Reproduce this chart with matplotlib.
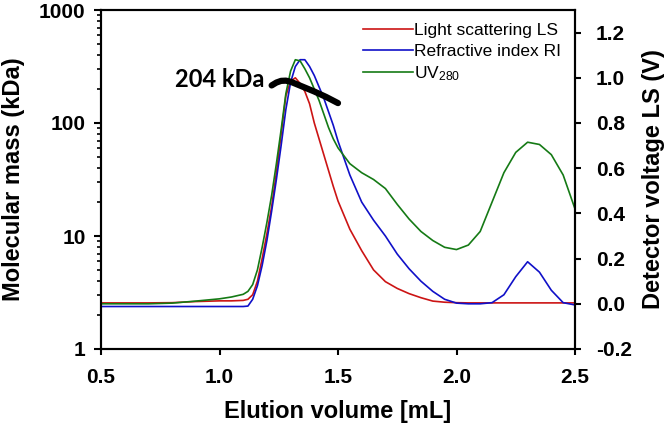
import numpy as np
import matplotlib
matplotlib.use('Agg')
import matplotlib.pyplot as plt
from matplotlib.ticker import LogLocator, FixedLocator, NullFormatter

plt.rcParams['font.family'] = ['Liberation Sans', 'DejaVu Sans']
plt.rcParams['mathtext.default'] = 'regular'

#%% data
volumen = [0.5, 0.6, 0.7, 0.8, 0.9, 1.0, 1.05, 1.1, 1.12, 1.14, 1.16, 1.18, 1.2,
           1.22, 1.24, 1.26, 1.28, 1.30, 1.32, 1.34, 1.36, 1.38, 1.40, 1.42,
           1.44, 1.46, 1.48, 1.50, 1.55, 1.60, 1.65, 1.70, 1.75, 1.80, 1.85,
           1.90, 1.95, 2.0, 2.05, 2.1, 2.15, 2.2, 2.25, 2.3, 2.35, 2.4, 2.45, 2.5]

ls = [0.004, 0.004, 0.004, 0.005, 0.010, 0.013, 0.013, 0.015, 0.020, 0.040,
      0.10, 0.20, 0.31, 0.43, 0.58, 0.75, 0.92, 0.985, 1.0, 0.975, 0.94, 0.885,
      0.80, 0.73, 0.66, 0.59, 0.52, 0.455, 0.33, 0.235, 0.15, 0.098, 0.068,
      0.045, 0.027, 0.012, 0.007, 0.005, 0.004, 0.004, 0.004, 0.004, 0.004,
      0.004, 0.004, 0.004, 0.004, 0.004]

ri = [-0.012, -0.012, -0.012, -0.012, -0.012, -0.012, -0.012, -0.012, -0.010,
      0.02, 0.08, 0.17, 0.28, 0.41, 0.55, 0.70, 0.86, 0.98, 1.05, 1.08, 1.08,
      1.05, 1.01, 0.96, 0.91, 0.85, 0.79, 0.72, 0.57, 0.45, 0.37, 0.30, 0.22,
      0.155, 0.10, 0.055, 0.02, 0.003, 0.0, 0.0, 0.005, 0.04, 0.12, 0.186,
      0.14, 0.06, 0.005, -0.005]

uv = [0.0, 0.0, 0.0, 0.003, 0.012, 0.022, 0.030, 0.042, 0.055, 0.085, 0.15,
      0.25, 0.36, 0.48, 0.62, 0.77, 0.93, 1.03, 1.08, 1.075, 1.04, 1.0, 0.95,
      0.90, 0.84, 0.78, 0.73, 0.69, 0.62, 0.58, 0.55, 0.51, 0.44, 0.375, 0.32,
      0.28, 0.25, 0.24, 0.26, 0.32, 0.45, 0.58, 0.67, 0.715, 0.705, 0.66,
      0.57, 0.42]

# molar mass across the main peak (kDa)
vol_mm = [1.22, 1.24, 1.26, 1.28, 1.30, 1.35, 1.40, 1.45, 1.50]
masa = [215, 228, 236, 237, 232, 210, 190, 170, 150]

#%%
fig = plt.figure(figsize=(6.68, 4.24), dpi=100)
ax = fig.add_axes([101/668, 75/424, 474/668, 339/424])
ax2 = ax.twinx()

ax2.plot(volumen, ls, color='#cc1414', lw=1.2, label='Light scattering LS')
ax2.plot(volumen, ri, color='#1010c8', lw=1.2, label='Refractive index RI')
ax2.plot(volumen, uv, color='#157a15', lw=1.2, label='UV$_{280}$')

ax.plot(vol_mm, masa, color='black', lw=4.5, solid_capstyle='round')
ax.text(1.0, 245, '204 kDa', fontsize=17, fontweight='bold', family='Lato',
        ha='center', va='center')

ax.set_zorder(ax2.get_zorder() + 1)
ax.patch.set_visible(False)

ax.set_xlim(0.5, 2.5)
ax.set_yscale('log')
ax.set_ylim(1, 1000)
ax2.set_ylim(-0.2, 1.3)

ax.set_xticks([0.5, 1.0, 1.5, 2.0, 2.5])
ax.set_xticklabels(['0.5', '1.0', '1.5', '2.0', '2.5'])
ax.yaxis.set_major_locator(FixedLocator([1, 10, 100, 1000]))
ax.set_yticklabels(['1', '10', '100', '1000'])
ax.yaxis.set_minor_locator(LogLocator(base=10, subs=np.arange(2, 10)))
ax.yaxis.set_minor_formatter(NullFormatter())
ax2.set_yticks([-0.2, 0.0, 0.2, 0.4, 0.6, 0.8, 1.0, 1.2])
ax2.set_yticklabels(['-0.2', '0.0', '0.2', '0.4', '0.6', '0.8', '1.0', '1.2'])

for a in (ax, ax2):
    for s in a.spines.values():
        s.set_linewidth(1.5)
    for lab in a.get_xticklabels() + a.get_yticklabels():
        lab.set_fontweight('bold')
        lab.set_fontsize(15)

ax.tick_params(axis='y', which='major', direction='out', length=5, width=1.5, pad=6)
ax.tick_params(axis='y', which='minor', direction='out', length=3, width=1.2)
ax.tick_params(axis='x', direction='out', length=4, width=1.5, pad=10)
ax2.tick_params(axis='y', direction='out', length=4, width=1.5, pad=11)

ax.set_xlabel('Elution volume [mL]', fontsize=17, fontweight='bold')
ax.set_ylabel('Molecular mass (kDa)', fontsize=17, fontweight='bold')
ax2.set_ylabel('Detector voltage LS (V)', fontsize=17, fontweight='bold')
ax.xaxis.set_label_coords(0.5, -0.15)
ax.yaxis.set_label_coords(-0.16, 0.5)
ax2.yaxis.set_label_coords(1.141, 0.5)

h, l = ax2.get_legend_handles_labels()
ax.legend(h, l, loc='upper left', bbox_to_anchor=(363/668, 1 - 23/424),
          bbox_transform=fig.transFigure, frameon=False, fontsize=12.5,
          handlelength=2.9, handletextpad=0.05, labelspacing=0.32,
          borderpad=0, borderaxespad=0)

plt.savefig('out.png', dpi=100)
